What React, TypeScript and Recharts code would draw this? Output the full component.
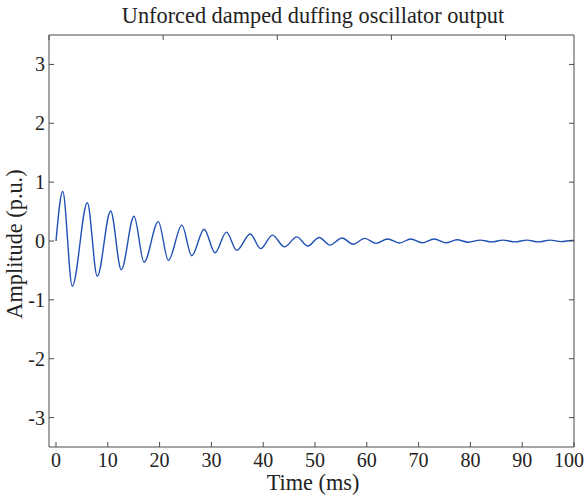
import React from 'react';
import { LineChart, Line, XAxis, YAxis } from 'recharts';

// Times (ms) of the successive extrema
const timeMs = [
  0, 1.3, 3.15, 6.05, 7.97, 10.55, 12.6, 15.06, 17.0, 19.75, 21.7, 24.3, 26.2, 28.6, 30.7,
  32.9, 34.9, 37.5, 39.5, 41.8, 44.1, 46.5, 48.6, 50.8, 52.9, 55.2, 57.4, 59.6, 61.8,
  64.0, 66.3, 68.5, 70.7, 73.0, 75.3, 77.4, 79.6, 81.9, 84.1, 86.3, 88.6, 90.9, 93.1,
  95.4, 97.5, 99.6, 100,
];
// Amplitude (p.u.) at those times
const amplitude = [
  0, 0.84, -0.77, 0.65, -0.6, 0.51, -0.49, 0.42, -0.36, 0.33, -0.33, 0.27, -0.25, 0.2, -0.2,
  0.15, -0.16, 0.12, -0.13, 0.1, -0.1, 0.07, -0.085, 0.06, -0.07, 0.05, -0.055, 0.045, -0.04,
  0.034, -0.034, 0.034, -0.03, 0.035, -0.03, 0.02, -0.02, 0.015, -0.015, 0.015, -0.015, 0.015, -0.015,
  0.015, -0.01, 0.01, 0.01,
];
const xTicks = [0, 10, 20, 30, 40, 50, 60, 70, 80, 90, 100];
const yTicks = [-3, -2, -1, 0, 1, 2, 3];
const xDomain = [-1.35, 100];
const yDomain = [-3.5, 3.5];

const data = timeMs.map((t, i) => ({ t, v: amplitude[i] }));

const FONT = '"Liberation Serif", "DejaVu Serif", serif';
const AXIS = '#4a4a4a';
const TEXT = '#222';
const FS = 20;
const LFS = 22.3;
const TICK = 5;

const BottomTick = (p: any) => {
  const last = p.payload.value === xTicks[xTicks.length - 1];
  return (
    <g>
      <line x1={p.x} y1={p.y} x2={p.x} y2={p.y - TICK} stroke={AXIS} />
      <text
        x={last ? p.x + 10 : p.x}
        y={p.y + 20}
        textAnchor={last ? 'end' : 'middle'}
        fontFamily={FONT}
        fontSize={FS}
        fill={TEXT}
      >
        {p.payload.value}
      </text>
    </g>
  );
};
const TopTick = (p: any) => (
  <line x1={p.x} y1={p.y} x2={p.x} y2={p.y + TICK} stroke={AXIS} />
);
const LeftTick = (p: any) => (
  <g>
    <line x1={p.x} y1={p.y} x2={p.x + TICK} y2={p.y} stroke={AXIS} />
    <text x={p.x - 4} y={p.y + 7} textAnchor="end" fontFamily={FONT} fontSize={FS} fill={TEXT}>
      {String(p.payload.value)}
    </text>
  </g>
);
const RightTick = (p: any) => (
  <line x1={p.x} y1={p.y} x2={p.x - TICK} y2={p.y} stroke={AXIS} />
);

export default function App() {
  return (
    <div style={{ position: 'absolute', left: 0, top: 0, width: 587, height: 500 }}>
      <LineChart width={587} height={500} data={data} margin={{ top: 0, right: 0, bottom: 0, left: 0 }}>
        <XAxis
          dataKey="t"
          type="number"
          domain={xDomain}
          ticks={xTicks}
          allowDataOverflow
          height={53}
          tickSize={0}
          tickMargin={0}
          tickLine={false}
          axisLine={{ stroke: AXIS }}
          tick={<BottomTick />}
          interval={0}
        />
        <XAxis
          xAxisId="top"
          orientation="top"
          type="number"
          domain={xDomain}
          ticks={xTicks}
          allowDataOverflow
          height={35}
          tickSize={0}
          tickMargin={0}
          tickLine={false}
          axisLine={{ stroke: AXIS }}
          tick={<TopTick />}
          interval={0}
        />
        <YAxis
          type="number"
          domain={yDomain}
          ticks={yTicks}
          allowDataOverflow
          width={49}
          tickSize={0}
          tickMargin={0}
          tickLine={false}
          axisLine={{ stroke: AXIS }}
          tick={<LeftTick />}
          interval={0}
        />
        <YAxis
          yAxisId="right"
          orientation="right"
          type="number"
          domain={yDomain}
          ticks={yTicks}
          allowDataOverflow
          width={13}
          tickSize={0}
          tickMargin={0}
          tickLine={false}
          axisLine={{ stroke: AXIS }}
          tick={<RightTick />}
          interval={0}
        />
        <Line
          type="monotone"
          dataKey="v"
          stroke="#1f50b4"
          strokeWidth={1.4}
          dot={false}
          isAnimationActive={false}
        />
      </LineChart>
      <svg
        width={587}
        height={500}
        style={{ position: 'absolute', left: 0, top: 0, pointerEvents: 'none' }}
      >
        <text x={313} y={23} textAnchor="middle" fontFamily={FONT} fontSize={LFS} fill={TEXT}>
          Unforced damped duffing oscillator output
        </text>
        <text x={313} y={490} textAnchor="middle" fontFamily={FONT} fontSize={LFS} fill={TEXT}>
          Time (ms)
        </text>
        <text
          x={0}
          y={0}
          transform="translate(22, 244) rotate(-90)"
          textAnchor="middle"
          fontFamily={FONT}
          fontSize={LFS}
          fill={TEXT}
        >
          Amplitude (p.u.)
        </text>
      </svg>
    </div>
  );
}
